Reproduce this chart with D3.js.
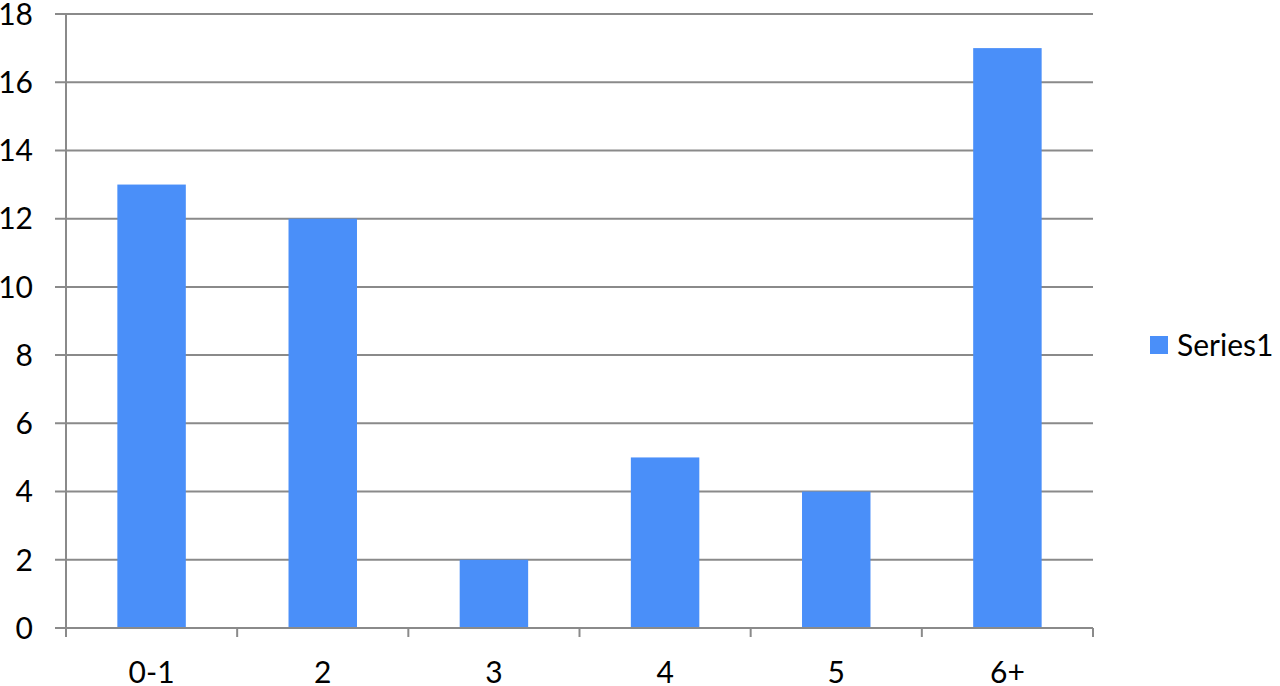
<!DOCTYPE html>
<html lang="en">
<head>
<meta charset="utf-8">
<script src="https://d3js.org/d3.v7.min.js"></script>
<style>
  body { margin: 0; background: #fff; }
  text { font-family: Lato, "Open Sans", sans-serif; fill: #000; }
</style>
</head>
<body>
<div id="chart"></div>
<script>
  // data
  var categories = ["0-1", "2", "3", "4", "5", "6+"];
  var values = [13, 12, 2, 5, 4, 17];
  var yTicks = [0, 2, 4, 6, 8, 10, 12, 14, 16, 18];
  var seriesName = "Series1";

  var width = 1280, height = 686;
  var plotLeft = 66, plotRight = 1093, plotTop = 14, plotBottom = 628;
  var gridColor = "#8a8a8a";
  var barColor = "#4a8ff9";

  var svg = d3.select("#chart").append("svg")
      .attr("width", width)
      .attr("height", height);

  var x = d3.scaleBand().domain(categories).range([plotLeft, plotRight]).paddingInner(0.6).paddingOuter(0.3);
  var y = d3.scaleLinear().domain([0, 18]).range([plotBottom, plotTop]);

  // horizontal gridlines
  svg.append("g").selectAll("line")
    .data(yTicks)
    .enter().append("line")
    .attr("x1", plotLeft - 11).attr("x2", plotRight)
    .attr("y1", function(d) { return y(d); })
    .attr("y2", function(d) { return y(d); })
    .attr("stroke", gridColor).attr("stroke-width", 2);

  // y axis line
  svg.append("line")
    .attr("x1", plotLeft).attr("x2", plotLeft)
    .attr("y1", plotTop).attr("y2", plotBottom + 8)
    .attr("stroke", gridColor).attr("stroke-width", 2);

  // x tick marks at category boundaries
  var step = (plotRight - plotLeft) / categories.length;
  svg.append("g").selectAll("line")
    .data(d3.range(categories.length + 1))
    .enter().append("line")
    .attr("x1", function(i) { return plotLeft + i * step; })
    .attr("x2", function(i) { return plotLeft + i * step; })
    .attr("y1", plotBottom).attr("y2", plotBottom + 9)
    .attr("stroke", gridColor).attr("stroke-width", 2);

  // bars
  svg.append("g").selectAll("rect")
    .data(values)
    .enter().append("rect")
    .attr("x", function(d, i) { return x(categories[i]); })
    .attr("y", function(d) { return y(d); })
    .attr("width", x.bandwidth())
    .attr("height", function(d) { return y(0) - y(d); })
    .attr("fill", barColor);

  // redraw baseline on top of bars
  svg.append("line")
    .attr("x1", plotLeft - 11).attr("x2", plotRight)
    .attr("y1", y(0)).attr("y2", y(0))
    .attr("stroke", gridColor).attr("stroke-width", 2);

  // y labels
  svg.append("g").selectAll("text")
    .data(yTicks)
    .enter().append("text")
    .attr("x", 33)
    .attr("y", function(d) { return y(d); })
    .attr("dy", "0.36em")
    .attr("text-anchor", "end")
    .style("font-size", "30px")
    .text(function(d) { return d; });

  // x labels
  svg.append("g").selectAll("text")
    .data(categories)
    .enter().append("text")
    .attr("x", function(d) { return x(d) + x.bandwidth() / 2; })
    .attr("y", 683)
    .attr("text-anchor", "middle")
    .style("font-size", "30px")
    .text(function(d) { return d; });

  // legend
  svg.append("rect")
    .attr("x", 1150).attr("y", 336)
    .attr("width", 18).attr("height", 18)
    .attr("fill", barColor);
  svg.append("text")
    .attr("x", 1177).attr("y", 356)
    .style("font-size", "30px")
    .text(seriesName);
</script>
</body>
</html>
